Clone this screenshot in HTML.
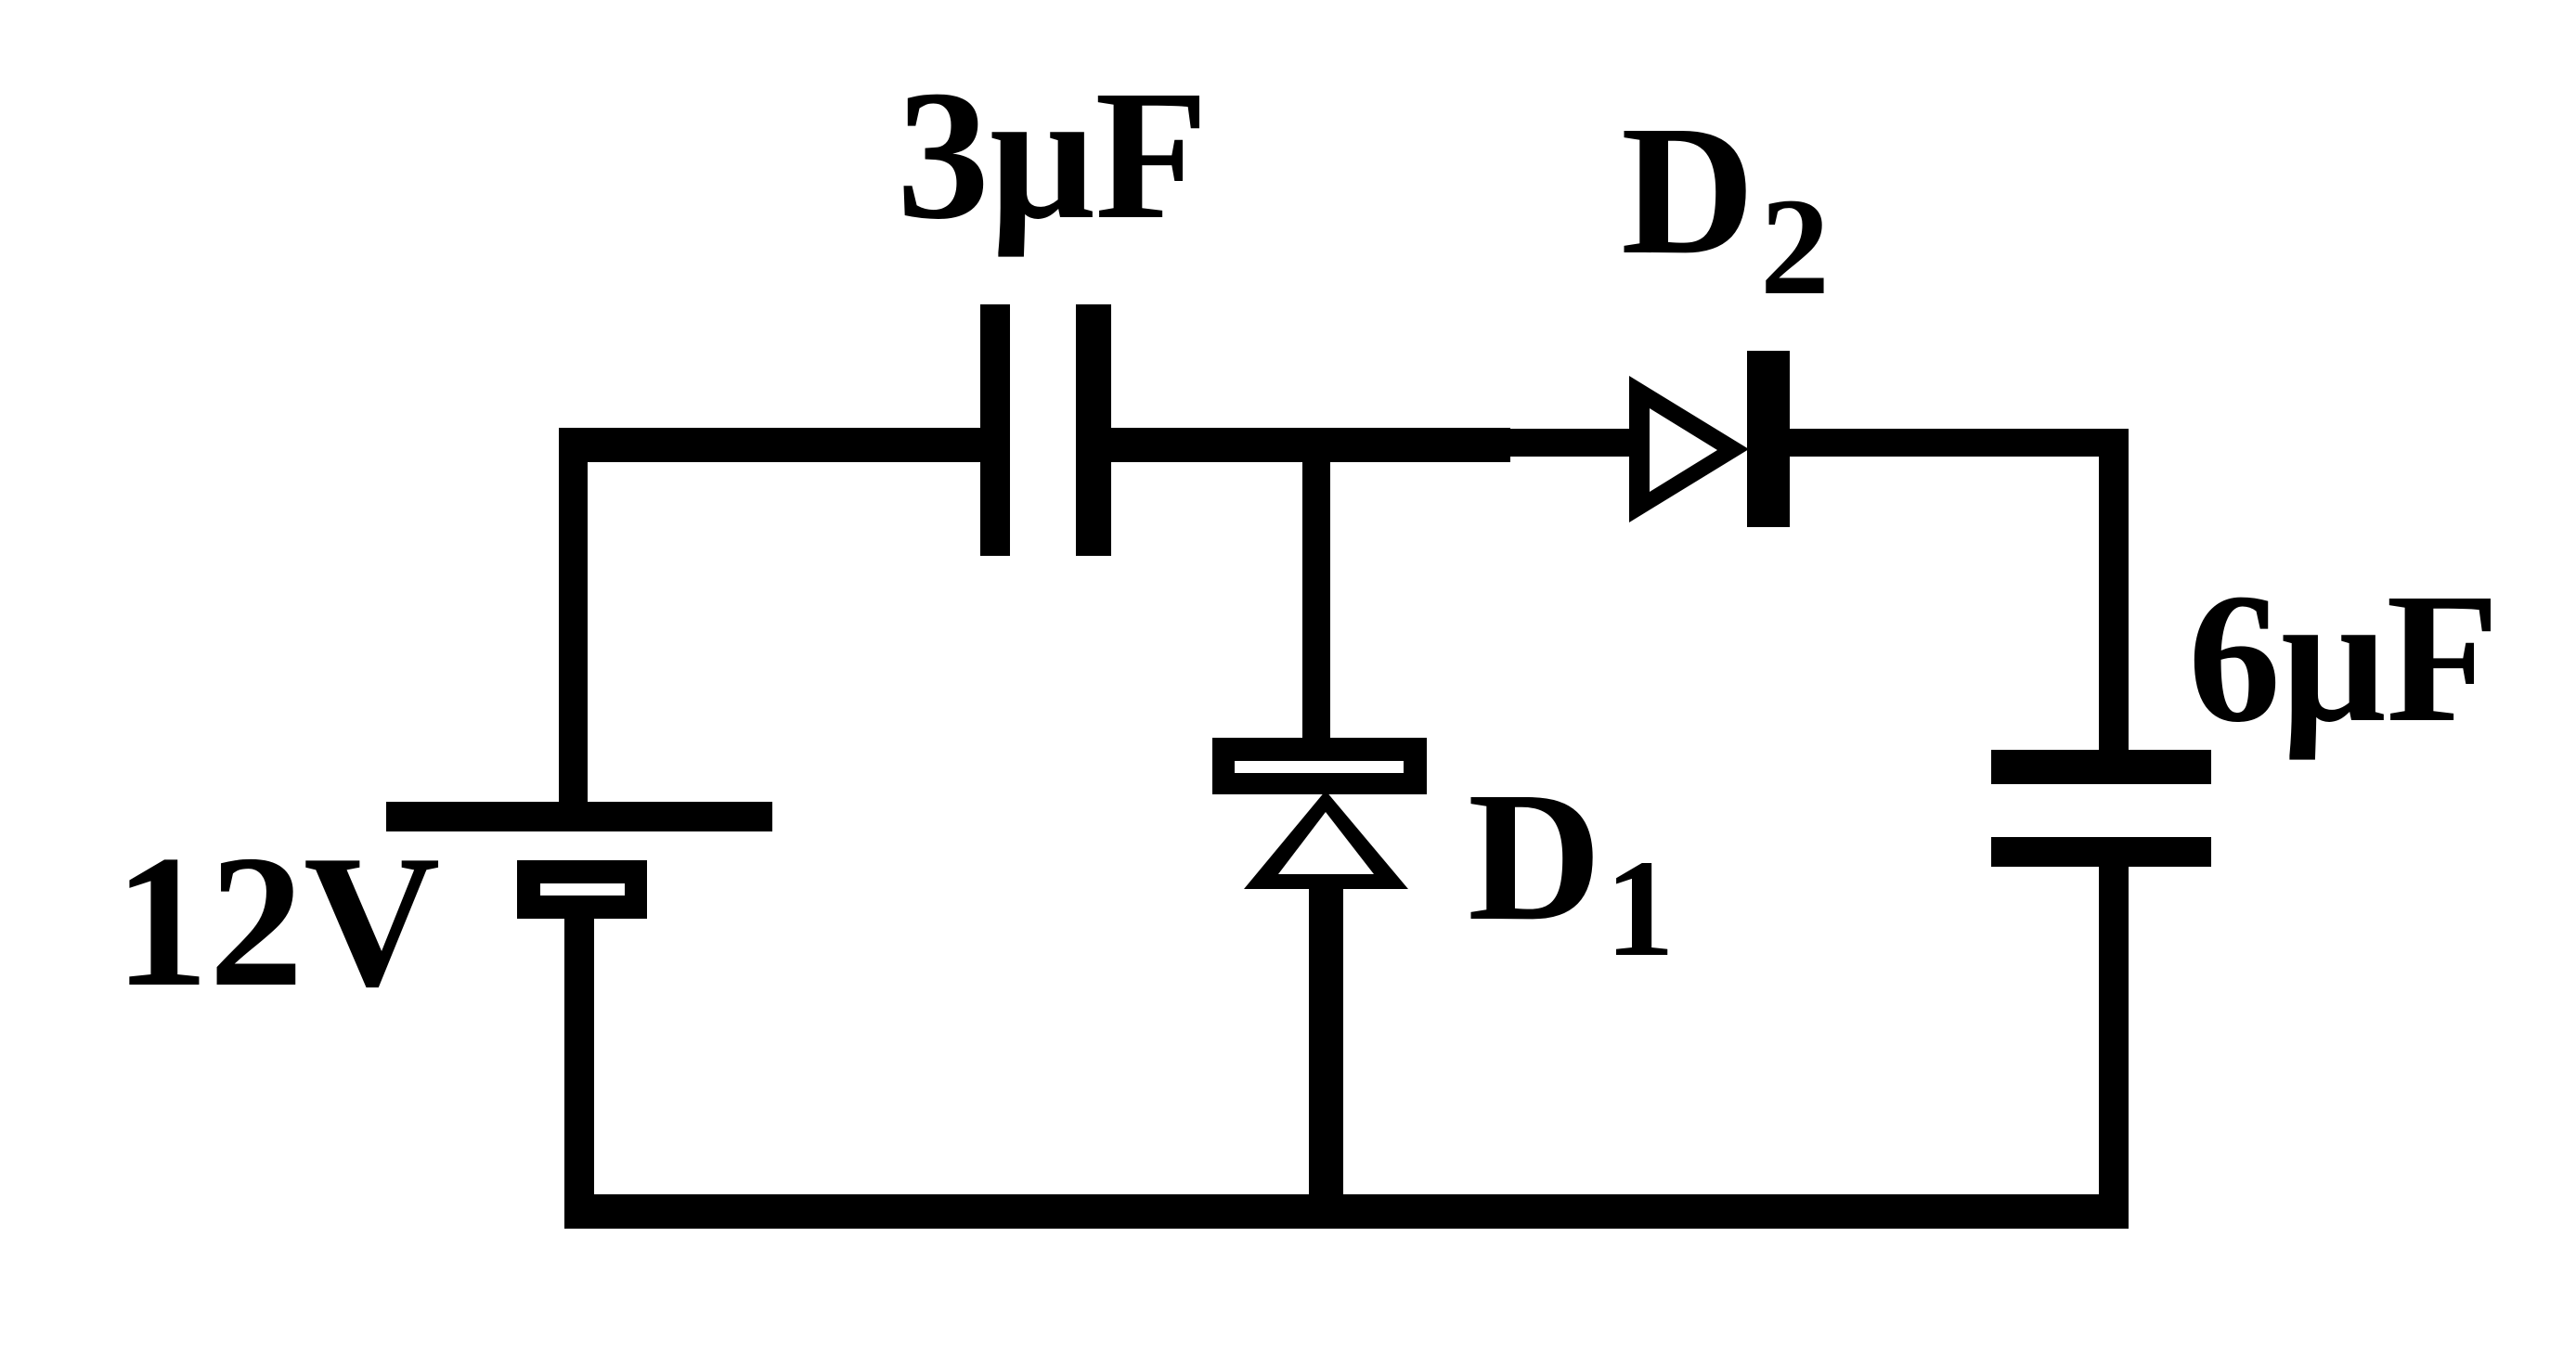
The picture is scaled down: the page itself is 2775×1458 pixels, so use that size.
<!DOCTYPE html>
<html>
<head>
<meta charset="utf-8">
<style>
  html, body { margin: 0; padding: 0; background: #ffffff; }
  body { width: 2775px; height: 1458px; overflow: hidden; }
  svg { display: block; }
  text { font-family: "Liberation Serif", "Times New Roman", serif; font-weight: bold; fill: #000; }
</style>
</head>
<body>
<svg width="2775" height="1458" viewBox="0 0 2775 1458" xmlns="http://www.w3.org/2000/svg">
  <rect x="0" y="0" width="2775" height="1458" fill="#fff"/>
  <g fill="#000">
    <!-- top wire left segment -->
    <rect x="603" y="461" width="453" height="37"/>
    <!-- left vertical -->
    <rect x="602" y="461" width="31" height="404"/>
    <!-- battery long plate -->
    <rect x="416" y="864" width="416" height="32"/>
    <!-- battery short plate (outline) -->
    <rect x="557" y="927" width="140" height="63"/>
    <!-- battery lower vertical -->
    <rect x="608" y="988" width="32" height="318"/>
    <!-- bottom wire -->
    <rect x="608" y="1287" width="1685" height="37"/>
    <!-- 3uF capacitor plates -->
    <rect x="1056" y="328" width="32" height="271"/>
    <rect x="1159" y="328" width="38" height="271"/>
    <!-- top wire middle -->
    <rect x="1197" y="461" width="430" height="37"/>
    <rect x="1620" y="462" width="140" height="30"/>
    <!-- D1 upper vertical -->
    <rect x="1403" y="461" width="30" height="336"/>
    <!-- D1 bar (outline) -->
    <rect x="1306" y="795" width="231" height="61"/>
    <!-- D1 triangle outer -->
    <polygon points="1428,852 1340,958 1517,958"/>
    <!-- D1 lower vertical -->
    <rect x="1410" y="956" width="37" height="345"/>
    <!-- D2 triangle outer -->
    <polygon points="1755,405 1755,563 1884,484"/>
    <!-- D2 bar -->
    <rect x="1882" y="378" width="46" height="190"/>
    <!-- top wire right -->
    <rect x="1928" y="462" width="365" height="30"/>
    <!-- right vertical -->
    <rect x="2261" y="462" width="32" height="347"/>
    <rect x="2261" y="932" width="32" height="370"/>
    <!-- 6uF capacitor plates -->
    <rect x="2145" y="808" width="237" height="37"/>
    <rect x="2145" y="902" width="237" height="32"/>
  </g>
  <g fill="#fff">
    <!-- battery short plate slot -->
    <rect x="582" y="952" width="91" height="13"/>
    <!-- D1 bar slot -->
    <rect x="1330" y="820" width="182" height="13"/>
    <!-- D1 triangle inner -->
    <polygon points="1428,875 1377,942 1480,942"/>
    <!-- D2 triangle inner -->
    <polygon points="1777,440 1777,530 1850,485"/>
  </g>

  <!-- labels -->
  <text x="966" y="234" font-size="200">3μF</text>
  <text x="123" y="1061" font-size="204">12V</text>
  <text x="2357" y="776" font-size="200">6μF</text>
  <text x="1746" y="272" font-size="200">D</text>
  <text x="1896" y="316" font-size="150">2</text>
  <text x="1581" y="990" font-size="200">D</text>
  <text x="1729" y="1029" font-size="150">1</text>
</svg>
</body>
</html>
